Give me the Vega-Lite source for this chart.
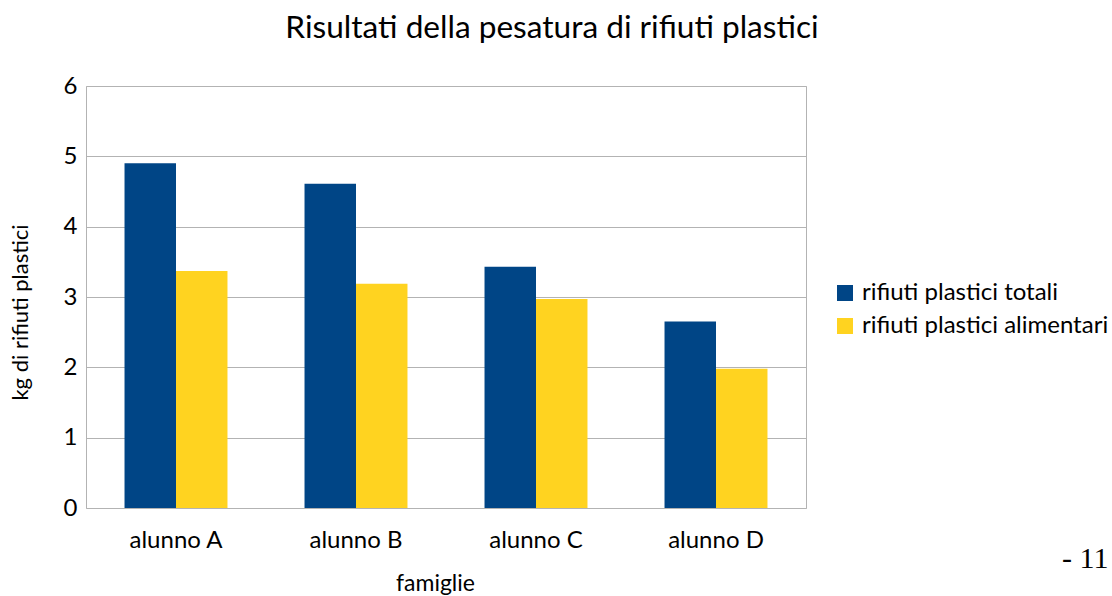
{
  "$schema": "https://vega.github.io/schema/vega-lite/v6.json",
  "width": 720,
  "height": 422,
  "autosize": {"type": "none"},
  "padding": {"left": 86, "top": 86, "right": 306, "bottom": 88},
  "background": "white",
  "title": {
    "text": "Risultati della pesatura di rifiuti plastici",
    "font": "Lato",
    "fontSize": 31.6,
    "fontWeight": "normal",
    "color": "black",
    "anchor": "middle",
    "dx": 106,
    "baseline": "alphabetic",
    "offset": 4
  },
  "data": {
    "values": [
      {"famiglia": "alunno A", "serie": "rifiuti plastici totali", "kg": 4.9},
      {"famiglia": "alunno A", "serie": "rifiuti plastici alimentari", "kg": 3.37},
      {"famiglia": "alunno B", "serie": "rifiuti plastici totali", "kg": 4.61},
      {"famiglia": "alunno B", "serie": "rifiuti plastici alimentari", "kg": 3.19},
      {"famiglia": "alunno C", "serie": "rifiuti plastici totali", "kg": 3.43},
      {"famiglia": "alunno C", "serie": "rifiuti plastici alimentari", "kg": 2.97},
      {"famiglia": "alunno D", "serie": "rifiuti plastici totali", "kg": 2.65},
      {"famiglia": "alunno D", "serie": "rifiuti plastici alimentari", "kg": 1.98}
    ]
  },
  "layer": [
    {
      "mark": {"type": "bar"},
      "encoding": {
        "x": {
          "field": "famiglia",
          "type": "nominal",
          "sort": null,
          "scale": {"paddingInner": 0.428, "paddingOuter": 0.214},
          "axis": {
            "orient": "bottom",
            "title": "famiglie",
            "titleFont": "Lato",
            "titleFontSize": 23,
            "titleFontWeight": "normal",
            "titleColor": "black",
            "titleX": 349,
            "titleY": 82,
            "titleAlign": "center",
            "titleBaseline": "alphabetic",
            "labelFont": "Lato",
            "labelFontSize": 24,
            "labelColor": "black",
            "labelAngle": 0,
            "labelBaseline": "alphabetic",
            "labelPadding": 39,
            "ticks": false,
            "domain": false,
            "grid": false
          }
        },
        "xOffset": {
          "field": "serie",
          "type": "nominal",
          "sort": ["rifiuti plastici totali", "rifiuti plastici alimentari"],
          "scale": {"paddingInner": 0, "paddingOuter": 0}
        },
        "y": {
          "field": "kg",
          "type": "quantitative",
          "scale": {"domain": [0, 6], "nice": false},
          "axis": {
            "title": "kg di rifiuti plastici",
            "titleFont": "Lato",
            "titleFontSize": 22,
            "titleFontWeight": "normal",
            "titleColor": "black",
            "titleAngle": -90,
            "titleAlign": "center",
            "titleBaseline": "alphabetic",
            "titleX": -59,
            "titleY": 226,
            "values": [0, 1, 2, 3, 4, 5, 6],
            "labelFont": "Lato",
            "labelFontSize": 24,
            "labelColor": "black",
            "labelPadding": 9,
            "ticks": false,
            "domain": false,
            "grid": true,
            "gridColor": "#b3b3b3",
            "gridWidth": 1
          }
        },
        "color": {
          "field": "serie",
          "type": "nominal",
          "sort": ["rifiuti plastici totali", "rifiuti plastici alimentari"],
          "scale": {"range": ["#004586", "#ffd320"]},
          "legend": {
            "title": null,
            "orient": "none",
            "legendX": 747,
            "legendY": 195,
            "padding": 0,
            "symbolType": "square",
            "symbolSize": 256,
            "symbolStrokeWidth": 0,
            "symbolOpacity": 1,
            "labelFont": "Lato",
            "labelFontSize": 24,
            "labelColor": "black",
            "labelOffset": 5,
            "rowPadding": 9,
            "labelLimit": 400
          }
        }
      }
    },
    {
      "mark": {"type": "bar", "opacity": 0},
      "encoding": {
        "x": {
          "field": "famiglia",
          "type": "nominal",
          "sort": null,
          "axis": {
            "orient": "bottom",
            "title": "- 11",
            "titleFont": "Liberation Serif",
            "titleFontSize": 30,
            "titleFontWeight": "normal",
            "titleColor": "black",
            "titleAlign": "right",
            "titleBaseline": "alphabetic",
            "titleX": 1022,
            "titleY": 59,
            "labels": false,
            "ticks": false,
            "domain": false,
            "grid": false
          }
        }
      }
    }
  ],
  "resolve": {"axis": {"x": "independent"}},
  "config": {
    "view": {"stroke": "#b3b3b3", "strokeWidth": 1},
    "font": "Lato"
  }
}
